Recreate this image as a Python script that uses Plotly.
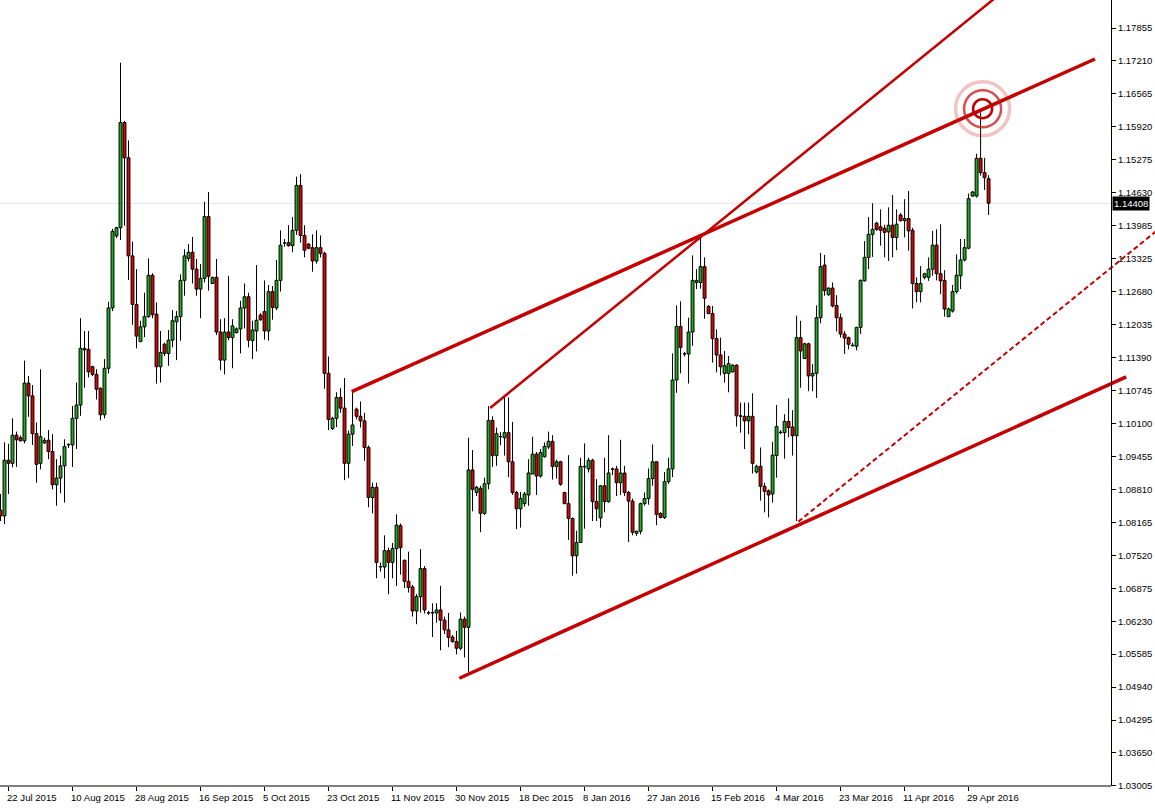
import plotly.graph_objects as go
import pandas as pd

# ---- daily EUR/USD bars ----
opens = [1.0840,1.0829,1.0938,1.0932,1.0987,1.0982,1.0976,1.1089,1.1064,1.0990,
         1.0932,1.0972,1.0977,1.0955,1.0890,1.0903,1.0927,1.0968,1.0968,1.1020,
         1.1046,1.1154,1.1155,1.1121,1.1106,1.1079,1.1027,1.1118,1.1236,1.1377,
         1.1393,1.1599,1.1530,1.1338,1.1243,1.1170,1.1199,1.1219,1.1300,1.1224,
         1.1121,1.1165,1.1147,1.1173,1.1209,1.1219,1.1290,1.1333,1.1345,1.1312,
         1.1273,1.1294,1.1415,1.1284,1.1296,1.1189,1.1134,1.1189,1.1178,1.1188,
         1.1195,1.1236,1.1258,1.1172,1.1191,1.1222,1.1229,1.1191,1.1268,1.1236,
         1.1290,1.1363,1.1364,1.1358,1.1388,1.1476,1.1378,1.1361,1.1354,1.1328,
         1.1354,1.1343,1.1108,1.1000,1.1020,1.1061,1.1040,1.0932,1.0989,1.1038,
         1.1024,1.1015,1.0963,1.0865,1.0885,1.0729,1.0729,1.0761,1.0738,1.0765,
         1.0810,1.0742,1.0701,1.0690,1.0643,1.0671,1.0726,1.0639,1.0639,1.0639,
         1.0645,1.0625,1.0606,1.0592,1.0583,1.0570,1.0627,1.0611,1.0919,1.0875,
         1.0883,1.0834,1.0892,1.1016,1.0947,1.0984,1.0982,1.0992,1.0935,1.0875,
         1.0843,1.0853,1.0870,1.0911,1.0950,1.0907,1.0945,1.0964,1.0975,1.0926,
         1.0935,1.0875,1.0853,1.0824,1.0751,1.0777,1.0925,1.0921,1.0938,1.0857,
         1.0825,1.0888,1.0857,1.0921,1.0921,1.0894,1.0913,1.0875,1.0858,1.0795,
         1.0799,1.0853,1.0863,1.0902,1.0935,1.0834,1.0826,1.0896,1.0921,1.1095,
         1.1200,1.1146,1.1146,1.1189,1.1286,1.1286,1.1317,1.1239,1.1225,1.1176,
         1.1144,1.1108,1.1108,1.1111,1.1124,1.1025,1.1024,1.1015,1.1024,1.0915,
         1.0926,1.0887,1.0878,1.0872,1.0947,1.0992,1.0992,1.1014,1.1003,1.0986,
         1.1178,1.1137,1.1166,1.1103,1.1108,1.1217,1.1320,1.1262,1.1275,1.1241,
         1.1217,1.1185,1.1178,1.1162,1.1161,1.1198,1.1289,1.1335,1.1380,1.1402,
         1.1395,1.1392,1.1385,1.1398,1.1374,1.1418,1.1407,1.1411,1.1388,1.1284,
         1.1268,1.1296,1.1296,1.1312,1.1359,1.1303,1.1290,1.1219,1.1230,1.1268,
         1.1299,1.1330,1.1353,1.1455,1.1455,1.1529,1.1501,1.1489]
highs = [1.0872,1.0973,1.0970,1.1020,1.0994,1.0986,1.1133,1.1103,1.1085,1.1012,
         1.1116,1.0982,1.0997,1.0989,1.0940,1.0947,1.0979,1.0971,1.1044,1.1090,
         1.1216,1.1191,1.1191,1.1123,1.1116,1.1080,1.1136,1.1248,1.1391,1.1395,
         1.1716,1.1602,1.1564,1.1366,1.1312,1.1211,1.1266,1.1333,1.1304,1.1247,
         1.1191,1.1168,1.1193,1.1232,1.1230,1.1302,1.1351,1.1361,1.1375,1.1332,
         1.1322,1.1444,1.1463,1.1297,1.1332,1.1214,1.1216,1.1299,1.1214,1.1198,
         1.1250,1.1284,1.1266,1.1211,1.1320,1.1226,1.1290,1.1281,1.1279,1.1330,
         1.1388,1.1371,1.1398,1.1414,1.1493,1.1498,1.1398,1.1363,1.1380,1.1388,
         1.1378,1.1346,1.1141,1.1023,1.1071,1.1079,1.1099,1.0996,1.1074,1.1041,
         1.1053,1.1031,1.0967,1.0894,1.0894,1.0738,1.0791,1.0767,1.0776,1.0832,
         1.0814,1.0744,1.0759,1.0694,1.0676,1.0764,1.0731,1.0643,1.0658,1.0658,
         1.0692,1.0632,1.0639,1.0596,1.0604,1.0640,1.0632,1.0982,1.0958,1.0888,
         1.0888,1.0904,1.1044,1.1024,1.1002,1.0993,1.1061,1.1061,1.1013,1.0878,
         1.0876,1.0876,1.0940,1.0984,1.0954,1.0960,1.0973,1.0994,1.0987,1.0939,
         1.0937,1.0876,1.0948,1.0826,1.0800,1.0943,1.0971,1.0943,1.0941,1.0901,
         1.0889,1.0943,1.0987,1.0924,1.0927,1.0978,1.0927,1.0878,1.0863,1.0800,
         1.0855,1.0875,1.0922,1.0969,1.0935,1.0836,1.0915,1.0943,1.1147,1.1241,
         1.1249,1.1150,1.1217,1.1339,1.1312,1.1374,1.1335,1.1242,1.1240,1.1194,
         1.1178,1.1152,1.1142,1.1126,1.1126,1.1051,1.1051,1.1051,1.1069,1.0929,
         1.0963,1.0894,1.0881,1.0974,1.1046,1.0997,1.1028,1.1059,1.1036,1.1221,
         1.1211,1.1168,1.1168,1.1126,1.1241,1.1344,1.1340,1.1276,1.1286,1.1261,
         1.1225,1.1191,1.1180,1.1168,1.1199,1.1292,1.1367,1.1414,1.1441,1.1405,
         1.1429,1.1399,1.1433,1.1457,1.1429,1.1422,1.1449,1.1465,1.1393,1.1296,
         1.1318,1.1305,1.1335,1.1387,1.1390,1.1400,1.1310,1.1237,1.1281,1.1341,
         1.1371,1.1371,1.1460,1.1465,1.1538,1.1619,1.1530,1.1496]
lows = [1.0819,1.0813,1.0872,1.0924,1.0925,1.0975,1.0971,1.1023,1.0968,1.0894,
        1.0920,1.0970,1.0940,1.0881,1.0849,1.0873,1.0855,1.0962,1.0925,1.0960,
        1.1025,1.1080,1.1100,1.1103,1.1057,1.1016,1.1020,1.1108,1.1230,1.1373,
        1.1369,1.1397,1.1291,1.1203,1.1157,1.1170,1.1179,1.1217,1.1216,1.1088,
        1.1090,1.1142,1.1123,1.1159,1.1134,1.1172,1.1260,1.1327,1.1284,1.1260,
        1.1216,1.1286,1.1270,1.1283,1.1183,1.1114,1.1106,1.1173,1.1118,1.1186,
        1.1147,1.1196,1.1159,1.1136,1.1151,1.1211,1.1174,1.1172,1.1213,1.1232,
        1.1268,1.1356,1.1356,1.1345,1.1379,1.1364,1.1335,1.1351,1.1307,1.1323,
        1.1335,1.1078,1.0997,1.0997,1.1003,1.1031,1.0899,1.0903,1.0966,1.1018,
        1.1002,1.0937,1.0846,1.0834,1.0707,1.0720,1.0707,1.0676,1.0707,1.0692,
        1.0714,1.0688,1.0679,1.0632,1.0617,1.0640,1.0638,1.0635,1.0592,1.0620,
        1.0566,1.0598,1.0572,1.0581,1.0558,1.0566,1.0552,1.0523,1.0838,1.0868,
        1.0797,1.0831,1.0881,1.0925,1.0927,1.0967,1.0947,1.0905,1.0870,1.0803,
        1.0806,1.0847,1.0849,1.0911,1.0870,1.0904,1.0943,1.0960,1.0900,1.0902,
        1.0888,1.0852,1.0782,1.0712,1.0716,1.0776,1.0804,1.0914,1.0819,1.0819,
        1.0806,1.0836,1.0855,1.0909,1.0868,1.0870,1.0868,1.0778,1.0791,1.0790,
        1.0793,1.0849,1.0851,1.0888,1.0811,1.0824,1.0823,1.0892,1.0905,1.1070,
        1.1108,1.1141,1.1088,1.1162,1.1273,1.1274,1.1215,1.1224,1.1129,1.1110,
        1.1104,1.1090,1.1071,1.1110,1.1004,1.0992,1.0960,1.0989,1.0912,1.0912,
        1.0859,1.0836,1.0826,1.0855,1.0904,1.0989,1.0941,1.0983,1.0947,1.0819,
        1.1080,1.1136,1.1073,1.1073,1.1060,1.1206,1.1260,1.1260,1.1237,1.1190,
        1.1178,1.1146,1.1155,1.1161,1.1153,1.1185,1.1288,1.1312,1.1336,1.1387,
        1.1358,1.1335,1.1328,1.1335,1.1349,1.1405,1.1374,1.1348,1.1235,1.1247,
        1.1247,1.1292,1.1289,1.1299,1.1290,1.1263,1.1219,1.1219,1.1227,1.1264,
        1.1273,1.1327,1.1351,1.1454,1.1452,1.1495,1.1467,1.1418]
closes = [1.0829,1.0938,1.0932,1.0987,1.0978,1.0976,1.1089,1.1064,1.0990,1.0930,
          1.0984,1.0977,1.0955,1.0890,1.0903,1.0927,1.0965,1.0969,1.1020,1.1046,
          1.1157,1.1157,1.1111,1.1106,1.1077,1.1027,1.1118,1.1236,1.1386,1.1393,
          1.1599,1.1530,1.1338,1.1243,1.1181,1.1199,1.1219,1.1300,1.1223,1.1121,
          1.1149,1.1147,1.1173,1.1211,1.1219,1.1290,1.1338,1.1345,1.1312,1.1273,
          1.1294,1.1415,1.1298,1.1296,1.1189,1.1134,1.1189,1.1178,1.1201,1.1195,
          1.1236,1.1258,1.1173,1.1193,1.1212,1.1213,1.1191,1.1268,1.1237,1.1290,
          1.1359,1.1363,1.1358,1.1388,1.1476,1.1378,1.1349,1.1353,1.1328,1.1354,
          1.1343,1.1108,1.1018,1.1020,1.1061,1.1040,1.0932,1.0989,1.1007,1.1024,
          1.1015,1.0963,1.0865,1.0885,1.0738,1.0730,1.0761,1.0738,1.0765,1.0811,
          1.0767,1.0701,1.0689,1.0643,1.0671,1.0726,1.0645,1.0639,1.0640,1.0645,
          1.0625,1.0606,1.0591,1.0583,1.0570,1.0627,1.0611,1.0919,1.0881,1.0885,
          1.0834,1.0892,1.1016,1.0947,1.0990,1.0984,1.0992,1.0935,1.0875,1.0843,
          1.0863,1.0872,1.0913,1.0950,1.0907,1.0953,1.0965,1.0975,1.0926,1.0935,
          1.0891,1.0853,1.0824,1.0751,1.0777,1.0926,1.0926,1.0938,1.0857,1.0843,
          1.0888,1.0857,1.0913,1.0920,1.0894,1.0913,1.0875,1.0858,1.0797,1.0799,
          1.0853,1.0863,1.0902,1.0935,1.0832,1.0826,1.0896,1.0921,1.1095,1.1200,
          1.1159,1.1146,1.1189,1.1290,1.1290,1.1317,1.1255,1.1225,1.1176,1.1144,
          1.1121,1.1123,1.1127,1.1124,1.1025,1.1024,1.1015,1.1024,1.0932,1.0926,
          1.0887,1.0877,1.0870,1.0948,1.1004,1.0993,1.1014,1.1002,1.0986,1.1178,
          1.1152,1.1166,1.1103,1.1108,1.1217,1.1317,1.1270,1.1275,1.1240,1.1217,
          1.1185,1.1177,1.1165,1.1163,1.1198,1.1290,1.1335,1.1380,1.1390,1.1390,
          1.1388,1.1384,1.1398,1.1374,1.1400,1.1407,1.1411,1.1387,1.1284,1.1268,
          1.1284,1.1303,1.1312,1.1359,1.1303,1.1289,1.1234,1.1234,1.1268,1.1300,
          1.1330,1.1354,1.1450,1.1463,1.1529,1.1501,1.1491,1.1441]

# trading days of the chart (broker feed with Sunday bars, no Christmas / New Year bar)
all_days = pd.date_range("2015-07-20", "2016-05-05", freq="D")
holidays = {"2015-12-25", "2016-01-01"}
dates = [d for d in all_days if d.weekday() != 5 and d.strftime("%Y-%m-%d") not in holidays]

time_labels = ["22 Jul 2015", "10 Aug 2015", "28 Aug 2015", "16 Sep 2015", "5 Oct 2015",
               "23 Oct 2015", "11 Nov 2015", "30 Nov 2015", "18 Dec 2015", "8 Jan 2016",
               "27 Jan 2016", "15 Feb 2016", "4 Mar 2016", "23 Mar 2016", "11 Apr 2016",
               "29 Apr 2016"]
price_labels = ["1.03005", "1.03650", "1.04295", "1.04940", "1.05585", "1.06230", "1.06875",
                "1.07520", "1.08165", "1.08810", "1.09455", "1.10100", "1.10745", "1.11390",
                "1.12035", "1.12680", "1.13325", "1.13985", "1.14630", "1.15275", "1.15920",
                "1.16565", "1.17210", "1.17855"]
price_step = 0.00645
last_price = 1.14408

# hand-drawn analysis objects: (bar index, price) anchor pairs
upper_channel = [(87.8, 1.10722), (273.6, 1.17233)]
lower_channel = [(114.7, 1.05113), (281.4, 1.11010)]
steep_line = [(122.4, 1.10403), (250.0, 1.18515)]
dashed_parallel = [(199.45, 1.08178), (290.0, 1.13934)]
target = (245.5, 1.1626)

LINE_RED = "#C40000"
BULL = "#1DB01D"
BEAR = "#E00000"
FONT = "Liberation Sans"

n = len(opens)
idx = list(range(n))
date_keys = [f"{d.day} {d.strftime('%b %Y')}" for d in dates]
label_idx = [date_keys.index(t) for t in time_labels]

body_lo = [min(o, c) for o, c in zip(opens, closes)]
body_hi = [max(o, c) for o, c in zip(opens, closes)]

fig = go.Figure()

# bodies
sizes = [max(h - l, 0.00004) for h, l in zip(body_hi, body_lo)]
fills = [BULL if c >= o else BEAR for o, c in zip(opens, closes)]
fig.add_trace(go.Bar(x=idx, y=sizes, base=body_lo, width=0.72,
                     marker=dict(color=fills, line=dict(color="black", width=1)),
                     hoverinfo="skip", showlegend=False))

# wicks: from low up to the body and from the body up to the high (never across the body)
wx, wy = [], []
for i in idx:
    wx += [i, i, None, i, i, None]
    wy += [lows[i], body_lo[i], None, body_hi[i], highs[i], None]
fig.add_trace(go.Scatter(x=wx, y=wy, mode="lines", line=dict(color="black", width=1),
                         hoverinfo="skip", showlegend=False))

def add_line(pts, width, dash="solid"):
    fig.add_trace(go.Scatter(x=[p[0] for p in pts], y=[p[1] for p in pts], mode="lines",
                             line=dict(color=LINE_RED, width=width, dash=dash),
                             hoverinfo="skip", showlegend=False))

add_line(upper_channel, 3.5)
add_line(lower_channel, 3.5)
add_line(steep_line, 2.5)
add_line(dashed_parallel, 2, "5px,3px")

y_bottom = 1.03004
y_top = 1.18388
axis_pos = 1111 / 1155

shapes = [
    dict(type="line", xref="paper", yref="y", x0=0, x1=axis_pos, y0=last_price, y1=last_price,
         line=dict(color="#E2E2F6", width=1), layer="below"),
    dict(type="line", xref="paper", yref="paper", x0=0, x1=axis_pos, y0=0, y1=0,
         line=dict(color="black", width=1)),
]
for r, col, w in [(27, "rgba(205,40,40,0.28)", 3.5), (18.5, "rgba(200,20,20,0.75)", 2.5),
                  (9.5, "#C00000", 2.5)]:
    shapes.append(dict(type="circle", xref="x", yref="y", xsizemode="pixel", ysizemode="pixel",
                       xanchor=target[0], yanchor=target[1], x0=-r, x1=r, y0=-r, y1=r,
                       line=dict(color=col, width=w)))

annotations = []
for i, t in zip(label_idx, time_labels):
    annotations.append(dict(x=i, y=0, xref="x", yref="paper", text=t, showarrow=False,
                            xanchor="left", yanchor="top", xshift=-4, yshift=-4,
                            font=dict(family=FONT, size=9.6, color="black")))
annotations.append(dict(x=axis_pos, y=last_price, xref="paper", yref="y", text=f"{last_price:.5f}",
                        showarrow=False, xanchor="left", yanchor="middle", xshift=1,
                        bgcolor="black", borderpad=1,
                        font=dict(family=FONT, size=9.5, color="white")))

fig.update_layout(
    width=1155, height=809,
    margin=dict(l=0, r=0, t=0, b=23, pad=0),
    paper_bgcolor="white", plot_bgcolor="white",
    showlegend=False, hovermode=False,
    shapes=shapes, annotations=annotations,
    xaxis=dict(domain=[0, 1], range=[-0.125, 288.6], showgrid=False, zeroline=False,
               showline=False, tickvals=label_idx, ticks="outside", ticklen=4,
               tickcolor="black", showticklabels=False, automargin=False, fixedrange=True),
    yaxis=dict(domain=[0, 1], range=[y_bottom, y_top], anchor="free", position=axis_pos,
               side="right", showline=True, linecolor="black", linewidth=1, showgrid=False,
               zeroline=False, ticks="outside", ticklen=4, tickcolor="black",
               tickvals=[1.03005 + price_step * i for i in range(len(price_labels))],
               ticktext=price_labels, tickfont=dict(family=FONT, size=9.5, color="black"),
               automargin=False, fixedrange=True),
)

fig.write_html("out.html", config={"displayModeBar": False},
               post_script="document.body.style.margin='0';document.body.style.overflow='hidden';")
